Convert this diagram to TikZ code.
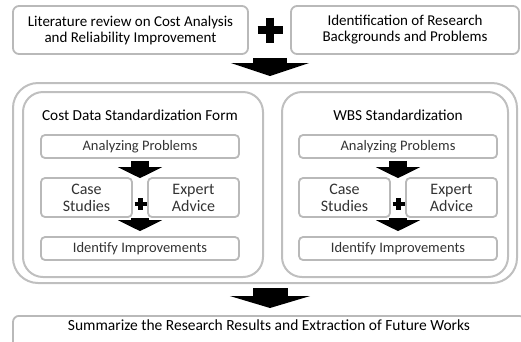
\documentclass[tikz,border=0pt]{standalone}
\usepackage{fontspec}
\setmainfont{Carlito}
\usetikzlibrary{arrows.meta,positioning,calc}

\tikzset{
  topbox/.style={draw=gray!55, line width=1.8pt, rounded corners=6pt, align=center,
    font=\fontsize{15}{16}\selectfont},
  stepbox/.style={draw=gray!55, line width=1.8pt, rounded corners=4pt, align=center,
    text=black!80, font=\fontsize{14.5}{15}\selectfont, inner sep=0pt},
  pairbox/.style={stepbox, font=\fontsize{16}{17}\selectfont, minimum width=91pt, minimum height=39pt},
  frame/.style={draw=gray!50, line width=2pt, rounded corners=#1},
  bigarrow/.style={line width=34pt, -{Triangle[width=78pt,length=13pt]}},
  smallarrow/.style={line width=18pt, -{Triangle[width=44pt,length=11pt]}},
  plusmark/.style={line width=#1}
}

\begin{document}
\begin{tikzpicture}[x=1pt,y=-1pt]
  \useasboundingbox (0,0) rectangle (521,341);

  % Top row - literature and problems
  \node[topbox, minimum width=235pt, minimum height=48pt] (lit) at (130.5,30)
    {Literature review on Cost Analysis\\and Reliability Improvement};
  \node[topbox, minimum width=228pt, minimum height=48pt] (iden) at (405,30)
    {Identification of Research\\Backgrounds and Problems};
  \coordinate (plusT) at (270,30);
  \draw[plusmark=8pt] ($(plusT)+(-12.5,0)$) -- ($(plusT)+(12.5,0)$);
  \draw[plusmark=8pt] ($(plusT)+(0,-12.5)$) -- ($(plusT)+(0,12.5)$);

  % Outer frame around both studies
  \node[frame=25pt, minimum width=504pt, minimum height=200pt] (outer) at (265,183) {};
  \draw[bigarrow] ($(plusT |- lit.south)+(0,3)$) -- ($(plusT |- outer.north)+(0,-6)$);

  % Two panels with the same steps
  \foreach \p/\dx/\pw/\pc/\ttl in {L/0/240/143/{Cost Data Standardization Form},
                                   R/258/226/137/{WBS Standardization}} {
    \begin{scope}[shift={(\dx,0)}]
      \node[frame=20pt, minimum width=\pw pt, minimum height=185pt] (\p-panel) at (\pc,184.5) {};
      \node[font=\fontsize{15.3}{16}\selectfont] (\p-title) at (140,115) {\ttl};

      \node[stepbox, minimum width=198pt, minimum height=23pt] (\p-ana) at (140,146.5) {Analyzing Problems};
      \node[pairbox] (\p-case) at (86.5,197.5) {Case\\Studies};
      \node[pairbox] (\p-expert) at (193.5,197.5) {Expert\\Advice};
      \node[stepbox, minimum width=198pt, minimum height=23pt] (\p-ident) at (140,248.5) {Identify Improvements};

      % Small plus between case and expert
      \coordinate (\p-plus) at (140.5,204);
      \draw[plusmark=4.5pt] ($(\p-plus)+(-6,0)$) -- ($(\p-plus)+(6,0)$);
      \draw[plusmark=4.5pt] ($(\p-plus)+(0,-6)$) -- ($(\p-plus)+(0,6)$);

      % Arrows between steps
      \draw[smallarrow] ($(\p-ana.south)+(0,2)$) -- ($(\p-ana.south |- \p-case.north)+(0,1)$);
      \draw[smallarrow] (\p-ana.south |- \p-case.south) -- ($(\p-ana.south |- \p-ident.north)+(0,-5)$);
    \end{scope}
  }

  % Bottom - summary
  \node[topbox, anchor=north, minimum width=512pt, inner ysep=4pt, text height=10.5pt, text depth=25pt,
    font=\fontsize{15.5}{16}\selectfont]
    (summ) at (269,315) {Summarize the Research Results and Extraction of Future Works};
  \draw[bigarrow, line width=35pt, -{Triangle[width=80pt,length=12pt]}]
    ($(plusT |- outer.south)+(0,4)$) -- ($(plusT |- summ.north)+(0,-7)$);
\end{tikzpicture}
\end{document}
